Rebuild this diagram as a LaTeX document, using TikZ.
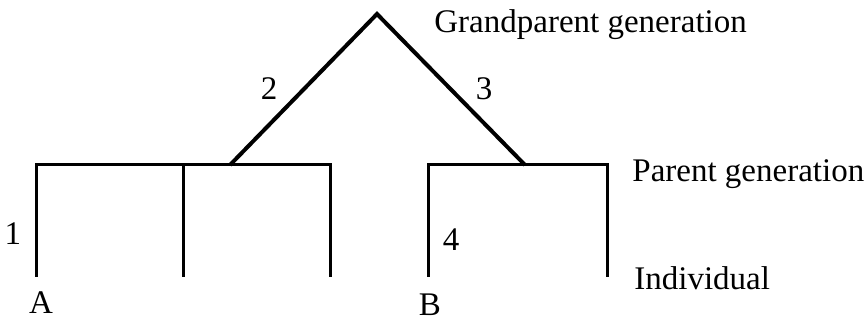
\documentclass[tikz,border=0pt]{standalone}
\usepackage{fontspec}
\setmainfont{Liberation Serif}
\usetikzlibrary{positioning}

\begin{document}
\begin{tikzpicture}[
  x=0.5pt, y=-0.5pt,
  every node/.style={font=\fontsize{16.5}{19}\selectfont, inner sep=0pt},
  bar/.style={line width=1.5pt},
  branch/.style={line width=2pt},
  gen/.style={anchor=base west},
  num/.style={anchor=base}
]
  \useasboundingbox (0,0) rectangle (867,320);

  % tree points
  \coordinate (gp) at (377,14);
  \coordinate (pl) at (230,165);
  \coordinate (pr) at (525,165);
  \coordinate (i1) at (36,277);
  \coordinate (i2) at (183,277);
  \coordinate (i3) at (330,277);
  \coordinate (i4) at (428,277);
  \coordinate (i5) at (607,277);

  \draw[branch] (pl) -- (gp) -- (pr);
  \draw[bar] (i1) |- (pl) -| (i3);
  \draw[bar] (i2) -- (i2 |- pl);
  \draw[bar] (i4) |- (pr) -| (i5);

  % generation labels
  \node[gen] (gpgen) at (434,33) {Grandparent generation};
  \node[gen] (pgen) at (632,182) {Parent generation};
  \node[gen] (indiv) at (634,289) {Individual};

  % numbers and individuals
  \node[num] (n1) at (13,245) {1};
  \node[num] (n2) at (269,100) {2};
  \node[num] (n3) at (484,100) {3};
  \node[num] (n4) at (451,250) {4};
  \node[num] (ia) at (41,314) {A};
  \node[num] (ib) at (430,315) {B};
\end{tikzpicture}
\end{document}
